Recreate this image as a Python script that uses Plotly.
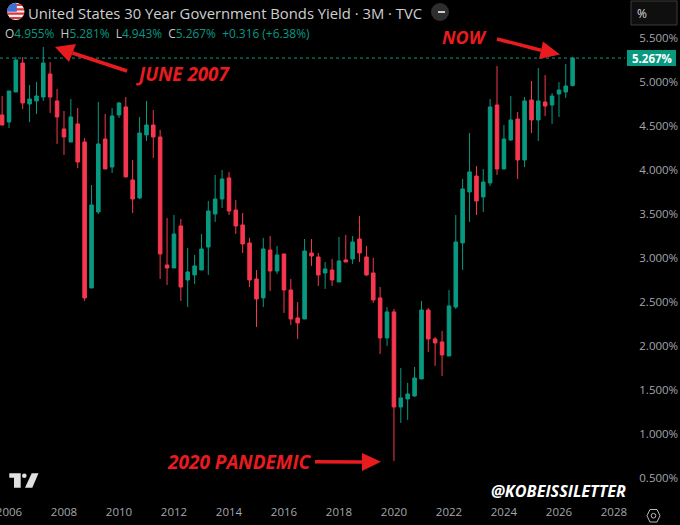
import math
import pandas as pd
import plotly.graph_objects as go

W = 680
H = 525
PLOT_RIGHT = 622
PLOT_BOTTOM = 497
TEAL = "#089981"
RED = "#F7374F"
ARROW_RED = "#E81C1F"
GREY = "#a3a6ad"
FONT = "Open Sans"

# quarterly candles, Q4 2005 to Q3 2026
dates = pd.date_range(start="2005-10-01", periods=84, freq="QS")

opens = [4.621, 4.541, 4.882, 5.211, 4.746, 4.780, 4.825, 5.086, 4.780, 4.462, 4.314, 4.519,
         4.314, 2.657, 3.520, 4.348, 4.030, 4.621, 4.712, 3.883, 3.679, 4.394, 4.507, 4.371,
         2.918, 2.884, 3.361, 2.748, 2.805, 2.861, 3.122, 3.497, 3.667, 3.906, 3.542, 3.372,
         3.168, 2.759, 2.544, 3.088, 2.850, 3.043, 2.634, 2.317, 2.305, 3.054, 3.009, 2.827,
         2.861, 2.725, 2.975, 2.986, 3.213, 3.009, 2.827, 2.544, 2.090, 2.385, 1.306, 1.397,
         1.431, 1.624, 2.407, 2.078, 2.044, 1.885, 2.441, 3.168, 3.747, 3.928, 3.690, 3.849,
         4.734, 4.008, 4.337, 4.575, 4.110, 4.791, 4.564, 4.768, 4.734, 4.859, 4.882, 4.955]
highs = [4.836, 4.893, 5.279, 5.279, 4.961, 4.995, 5.392, 5.222, 4.916, 4.666, 4.802, 4.700,
         4.360, 3.826, 4.768, 4.632, 4.700, 4.768, 4.825, 4.110, 4.598, 4.780, 4.677, 4.451,
         3.452, 3.486, 3.440, 3.111, 3.032, 3.270, 3.645, 3.940, 3.996, 3.974, 3.656, 3.508,
         3.225, 2.861, 3.225, 3.247, 3.134, 3.043, 2.759, 2.498, 3.213, 3.213, 3.054, 2.952,
         2.986, 3.236, 3.259, 3.247, 3.474, 3.134, 2.998, 2.669, 2.441, 2.419, 1.749, 1.579,
         1.760, 2.510, 2.430, 2.101, 2.169, 2.634, 3.486, 3.894, 4.416, 4.042, 4.008, 4.802,
         5.177, 4.507, 4.836, 4.655, 4.825, 5.007, 5.154, 5.074, 4.870, 4.995, 5.199, 5.281]
lows = [4.507, 4.473, 4.882, 4.689, 4.541, 4.632, 4.780, 4.643, 4.292, 4.167, 4.314, 4.019,
        2.510, 2.657, 3.497, 4.008, 3.962, 4.587, 3.917, 3.508, 3.667, 4.326, 4.133, 2.759,
        2.691, 2.884, 2.510, 2.441, 2.703, 2.861, 2.805, 3.406, 3.565, 3.486, 3.270, 3.054,
        2.668, 2.214, 2.441, 2.623, 2.816, 2.373, 2.237, 2.078, 2.305, 2.907, 2.680, 2.646,
        2.680, 2.725, 2.952, 2.930, 2.952, 2.793, 2.487, 1.908, 1.999, 0.693, 1.125, 1.159,
        1.420, 1.624, 1.931, 1.772, 1.658, 1.885, 2.419, 2.861, 3.406, 3.486, 3.520, 3.815,
        3.940, 4.008, 4.326, 3.894, 4.030, 4.416, 4.326, 4.609, 4.519, 4.598, 4.814, 4.943]
closes = [4.507, 4.893, 5.245, 4.757, 4.802, 4.836, 5.211, 4.825, 4.598, 4.371, 4.598, 4.087,
          2.544, 3.599, 4.292, 4.008, 4.609, 4.757, 3.917, 3.667, 4.416, 4.507, 4.371, 3.043,
          2.884, 3.270, 2.668, 2.839, 2.907, 3.100, 3.531, 3.667, 3.894, 3.531, 3.361, 3.157,
          2.748, 2.532, 3.100, 2.850, 3.032, 2.634, 2.305, 2.260, 3.077, 3.020, 2.805, 2.873,
          2.748, 2.964, 2.952, 3.179, 3.054, 2.805, 2.521, 2.090, 2.385, 1.306, 1.409, 1.454,
          1.635, 2.407, 2.078, 2.033, 1.897, 2.453, 3.179, 3.781, 3.974, 3.644, 3.860, 4.712,
          4.008, 4.348, 4.564, 4.110, 4.780, 4.564, 4.780, 4.723, 4.836, 4.904, 4.950, 5.267]

price_ticks = [0.5, 1.0, 1.5, 2.0, 2.5, 3.0, 3.5, 4.0, 4.5, 5.0, 5.5]
year_ticks = [2006, 2008, 2010, 2012, 2014, 2016, 2018, 2020, 2022, 2024, 2026, 2028]

last = closes[-1]
change = 0.316
change_pct = 6.38


def px(x):
    return x / W


def py(y):
    return 1 - y / H


def poly(points, fill, line=None):
    path = "M " + " L ".join(f"{px(x):.5f},{py(y):.5f}" for x, y in points) + " Z"
    return dict(type="path", xref="paper", yref="paper", path=path, fillcolor=fill,
                line=dict(color=line or fill, width=1 if line else 0), layer="above")


def circle(cx, cy, r, fill, line_color=None, width=0):
    return dict(type="circle", xref="paper", yref="paper", x0=px(cx - r), x1=px(cx + r),
                y0=py(cy + r), y1=py(cy - r), fillcolor=fill,
                line=dict(color=line_color or fill, width=width), layer="above")


def label(x, y, text, size, color, anchor="left", bold=False, italic=False, family=FONT):
    if bold:
        text = f"<b>{text}</b>"
    if italic:
        text = f"<i>{text}</i>"
    return dict(x=px(x), y=py(y), xref="paper", yref="paper", text=text, showarrow=False,
                xanchor=anchor, yanchor="middle", font=dict(size=size, color=color, family=family))


def arrow(tail, head_a, head_b, tip, thick):
    # shaft from tail to the middle of the head base, then the head
    mx, my = (head_a[0] + head_b[0]) / 2, (head_a[1] + head_b[1]) / 2
    dx, dy = mx - tail[0], my - tail[1]
    n = math.hypot(dx, dy)
    ox, oy = -dy / n * thick / 2, dx / n * thick / 2
    return [
        poly([(tail[0] + ox, tail[1] + oy), (mx + ox, my + oy), (mx - ox, my - oy), (tail[0] - ox, tail[1] - oy)], ARROW_RED),
        poly([head_a, tip, head_b], ARROW_RED),
    ]


def flag_band(cx, cy, r, top, bottom, right=None):
    left_pts, right_pts = [], []
    steps = 8
    for i in range(steps + 1):
        y = top + (bottom - top) * i / steps
        half = math.sqrt(max(r * r - (y - cy) ** 2, 0))
        left_pts.append((cx - half, y))
        right_pts.append((min(cx + half, right) if right is not None else cx + half, y))
    return left_pts + right_pts[::-1]


fig = go.Figure(go.Candlestick(
    x=dates, open=opens, high=highs, low=lows, close=closes,
    increasing=dict(line=dict(color=TEAL, width=1), fillcolor=TEAL),
    decreasing=dict(line=dict(color=RED, width=1), fillcolor=RED),
    whiskerwidth=0,
))

shapes = []

# last price line and tag
shapes.append(dict(type="line", xref="paper", yref="y", x0=0, x1=px(625), y0=last, y1=last,
                   line=dict(color=TEAL, width=1, dash="dot"), layer="below"))
shapes.append(dict(type="rect", xref="paper", yref="paper", x0=px(627), x1=px(676), y0=py(66), y1=py(50),
                   fillcolor=TEAL, line=dict(width=0)))

# % box top right
shapes.append(dict(type="rect", xref="paper", yref="paper", x0=px(631), x1=px(677), y0=py(25), y1=py(1),
                   fillcolor="#0f0f0f", line=dict(color="#3d3d3d", width=1)))

# flag
cx, cy, r = 15.8, 11.4, 8.6
shapes.append(circle(cx, cy, r, "#f2f2f2"))
for k in range(4):
    top = cy - r + 1.2 + k * 4.3
    shapes.append(poly(flag_band(cx, cy, r, top, top + 2.1), "#e0343a"))
shapes.append(poly(flag_band(cx, cy, r, cy - r, cy + 0.3, right=cx + 1), "#3c6fd1"))

# minus button next to title
shapes.append(circle(440, 12, 9, "#2e2e2e"))
shapes.append(poly([(438, 11), (445, 11), (445, 13), (438, 13)], "#d0d0d0"))

# annotation arrows
shapes += arrow((127, 71), (76, 44), (69, 62), (55, 47), 3.5)
shapes += arrow((497, 39), (543, 41.5), (539, 59), (560, 54.5), 3.5)
shapes += arrow((315, 461.7), (362, 453), (362, 471), (381, 461.7), 3.5)

# TradingView logo
logo = "#e0e0e0"
shapes.append(poly([(9.3, 473.3), (20.7, 473.3), (20.7, 487.7), (14, 487.7), (14, 477.7), (9.3, 477.7)], logo))
shapes.append(circle(24.3, 475.7, 2.3, logo))
shapes.append(poly([(31.7, 473.3), (38.5, 473.3), (32.3, 487.7), (25, 487.7)], logo))

# settings icon
shapes.append(poly([(647, 515.7), (650, 509.5), (657, 509.5), (660, 515.7), (657, 522), (650, 522)], "rgba(0,0,0,0)", line="#b8b8b8"))
shapes.append(circle(653.5, 515.7, 2.3, "rgba(0,0,0,0)", "#b8b8b8", 1))

ohlc = (
    f'<span style="color:#c8c8c8">O</span><span style="color:{TEAL}">{opens[-1]:.3f}%</span>'
    f'  <span style="color:#c8c8c8">H</span><span style="color:{TEAL}">{highs[-1]:.3f}%</span>'
    f'  <span style="color:#c8c8c8">L</span><span style="color:{TEAL}">{lows[-1]:.3f}%</span>'
    f'  <span style="color:#c8c8c8">C</span><span style="color:{TEAL}">{closes[-1]:.3f}%</span>'
    f'  <span style="color:{TEAL}">+{change:.3f} (+{change_pct:.2f}%)</span>'
)

annotations = [
    label(26, 12.5, "United States 30 Year Government Bonds Yield · 3M · TVC", 14.8, "#cfcfcf"),
    label(3, 32.5, ohlc, 11.9, TEAL),
    label(651.5, 58, f"{last:.3f}%", 11.5, "#ffffff", anchor="center", bold=True),
    label(635, 13, "%", 12, "#d9d9d9"),
    label(134, 73.5, "JUNE 2007", 18.8, ARROW_RED, bold=True, italic=True),
    label(440, 37, "NOW", 18, ARROW_RED, bold=True, italic=True),
    label(165, 461.5, "2020 PANDEMIC", 19, ARROW_RED, bold=True, italic=True),
    label(489, 491, "@KOBEISSILETTER", 16.2, "#ffffff", bold=True, italic=True),
]

fig.update_layout(
    width=W, height=H,
    margin=dict(l=0, r=0, t=0, b=0, autoexpand=False),
    paper_bgcolor="#000000", plot_bgcolor="#000000",
    showlegend=False,
    boxgap=0.25,
    font=dict(family=FONT, color=GREY, size=11.5),
    shapes=shapes,
    annotations=annotations,
    xaxis=dict(
        domain=[0, PLOT_RIGHT / W],
        type="date",
        range=["2005-09-03", "2028-04-17"],
        rangeslider=dict(visible=False),
        showgrid=False, zeroline=False, showline=False,
        tickmode="array",
        tickvals=[f"{y}-01-01" for y in year_ticks],
        ticktext=[str(y) for y in year_ticks],
        ticks="outside", ticklen=4, tickcolor="#000000",
        ticklabeloverflow="allow",
        tickfont=dict(size=11.5, color=GREY),
    ),
    yaxis=dict(
        domain=[1 - PLOT_BOTTOM / H, 1],
        side="right",
        range=[0.284, 5.926],
        showgrid=False, zeroline=False, showline=False,
        tickmode="array",
        tickvals=price_ticks,
        ticktext=[f"{p:.3f}%" for p in price_ticks],
        ticks="outside", ticklen=14, tickcolor="#000000",
        ticklabeloverflow="allow",
        tickfont=dict(size=11.5, color=GREY),
    ),
)

# page margin off so the figure sits at the window corner
fig.write_html("out.html", config=dict(displayModeBar=False),
               post_script="document.body.style.margin='0';document.body.style.background='#000';")
